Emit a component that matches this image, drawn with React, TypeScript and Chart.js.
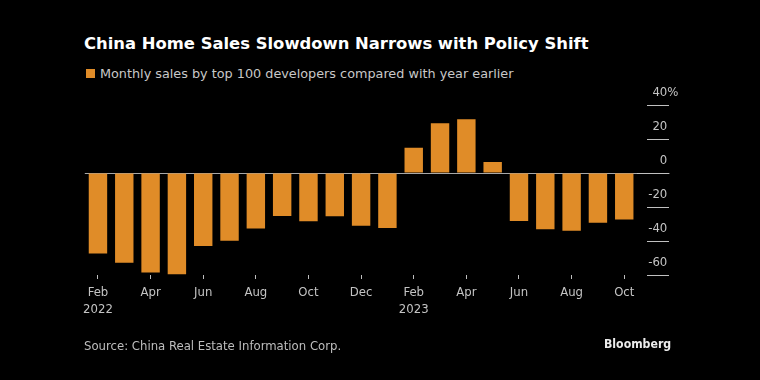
import React, { useEffect, useRef } from 'react';
import { Chart, registerables } from 'chart.js';

Chart.register(...registerables);

const categories = [
  'Feb 2022', 'Mar 2022', 'Apr 2022', 'May 2022', 'Jun 2022', 'Jul 2022', 'Aug 2022',
  'Sep 2022', 'Oct 2022', 'Nov 2022', 'Dec 2022', 'Jan 2023', 'Feb 2023', 'Mar 2023',
  'Apr 2023', 'May 2023', 'Jun 2023', 'Jul 2023', 'Aug 2023', 'Sep 2023', 'Oct 2023',
];
const salesYoY = [
  -47.3, -52.8, -58.6, -59.6, -43.0, -39.8, -32.7, -25.3, -28.4, -25.4, -31.0, -32.4,
  14.8, 29.2, 31.6, 6.5, -28.2, -33.1, -33.9, -29.2, -27.4,
];
const yTickValues = [40, 20, 0, -20, -40, -60];

const TITLE = 'China Home Sales Slowdown Narrows with Policy Shift';
const LEGEND = 'Monthly sales by top 100 developers compared with year earlier';
const SOURCE = 'Source: China Real Estate Information Corp.';

const FONT = '"DejaVu Sans Condensed", "DejaVu Sans", sans-serif';
const WIDE_FONT = '"DejaVu Sans", sans-serif';
const BAR = '#e08c28';
const AXIS_TEXT = '#c4c4c4';

export default function App() {
  const ref = useRef<HTMLCanvasElement>(null);

  useEffect(() => {
    const chart = new Chart(ref.current as HTMLCanvasElement, {
      type: 'bar',
      data: {
        labels: categories,
        datasets: [
          {
            data: salesYoY,
            backgroundColor: BAR,
            borderWidth: 0,
            barPercentage: 0.7,
            categoryPercentage: 1,
          },
        ],
      },
      options: {
        animation: false,
        responsive: false,
        maintainAspectRatio: false,
        layout: { padding: { left: 84.8, right: 60, top: 105, bottom: 55 } },
        plugins: { legend: { display: false }, tooltip: { enabled: false } },
        scales: {
          x: {
            offset: true,
            grid: {
              offset: false,
              drawOnChartArea: false,
              drawTicks: true,
              tickLength: 4,
              tickColor: (c: any) => (c.index % 2 === 0 ? '#bdbdbd' : 'rgba(0,0,0,0)'),
            },
            border: { display: false },
            ticks: {
              autoSkip: false,
              maxRotation: 0,
              minRotation: 0,
              padding: 5,
              color: AXIS_TEXT,
              font: { family: FONT, size: 13, lineHeight: 1.3 },
              callback: (_v: any, i: number) => {
                if (i % 2 !== 0) return '';
                const [m, y] = categories[i].split(' ');
                return m === 'Feb' ? [m, y] : m;
              },
            },
            afterFit: (s: any) => {
              s.height = 50;
            },
          },
          y: {
            position: 'right',
            min: -60,
            max: 40,
            afterBuildTicks: (s: any) => {
              s.ticks = yTickValues.map((v) => ({ value: v }));
            },
            grid: {
              color: (c: any) => (c.tick && c.tick.value === 0 ? '#a8a8a8' : 'rgba(0,0,0,0)'),
              tickLength: 32,
              tickColor: '#c0c0c0',
              tickBorderDash: (c: any) => (c.tick && c.tick.value === 0 ? [] : [0, 10, 22, 100]),
            },
            border: { display: false },
            ticks: {
              mirror: true,
              padding: 41,
              labelOffset: -12.5,
              color: AXIS_TEXT,
              font: { family: FONT, size: 13 },
              callback: (v: any) => (v === 40 ? '40%' : `${v}   `),
            },
            afterFit: (s: any) => {
              s.width = 62.6;
            },
          },
        },
      },
    });
    return () => chart.destroy();
  }, []);

  return (
    <div
      style={{
        position: 'fixed',
        left: 0,
        top: 0,
        width: 760,
        height: 380,
        background: '#000',
        overflow: 'hidden',
        fontFamily: FONT,
      }}
    >
      <div
        style={{
          position: 'absolute',
          left: 84,
          top: 36,
          fontSize: 16.4,
          lineHeight: '16.4px',
          fontWeight: 'bold',
          fontFamily: WIDE_FONT,
          color: '#ffffff',
          whiteSpace: 'nowrap',
        }}
      >
        {TITLE}
      </div>
      <div
        style={{
          position: 'absolute',
          left: 86,
          top: 69.3,
          width: 9,
          height: 9,
          background: BAR,
        }}
      />
      <div
        style={{
          position: 'absolute',
          left: 100,
          top: 67.9,
          fontSize: 12.8,
          lineHeight: '12.8px',
          fontFamily: WIDE_FONT,
          color: '#c8c8c8',
          whiteSpace: 'nowrap',
        }}
      >
        {LEGEND}
      </div>
      <canvas
        ref={ref}
        width={760}
        height={380}
        style={{ position: 'absolute', left: 0, top: 0, width: 760, height: 380 }}
      />
      <div
        style={{
          position: 'absolute',
          left: 84,
          top: 339,
          fontSize: 13,
          lineHeight: '13px',
          color: '#bdbdbd',
          whiteSpace: 'nowrap',
        }}
      >
        {SOURCE}
      </div>
      <div
        style={{
          position: 'absolute',
          left: 604,
          top: 337.9,
          fontSize: 12.2,
          lineHeight: '12.2px',
          fontWeight: 'bold',
          color: '#ececec',
          whiteSpace: 'nowrap',
        }}
      >
        Bloomberg
      </div>
    </div>
  );
}
